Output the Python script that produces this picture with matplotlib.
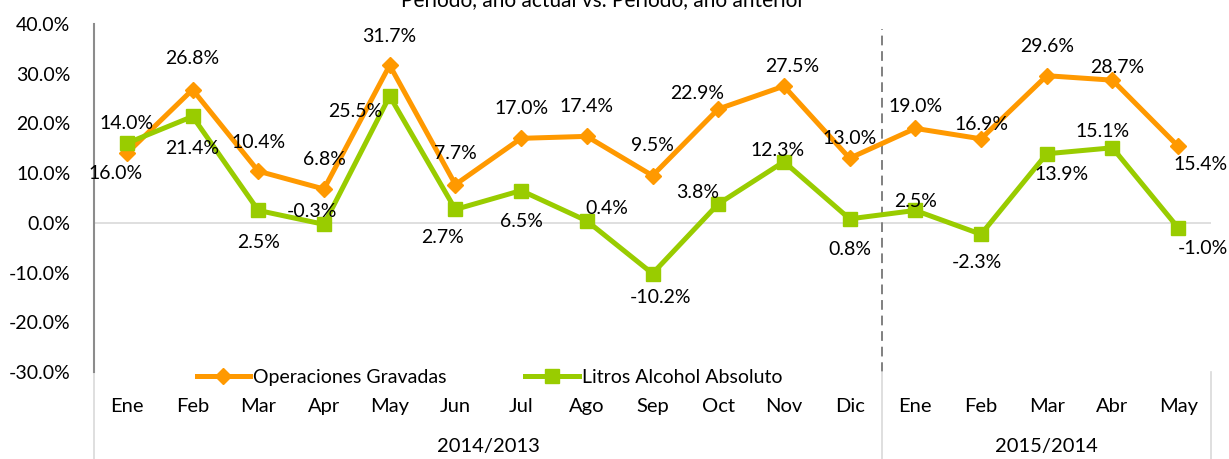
import matplotlib
matplotlib.use("Agg")
import matplotlib.pyplot as plt
import matplotlib.transforms as mtransforms
from matplotlib.lines import Line2D

plt.rcParams['font.family'] = ['Lato', 'DejaVu Sans']

# --- datos ---
meses = ["Ene", "Feb", "Mar", "Apr", "May", "Jun", "Jul", "Ago", "Sep", "Oct", "Nov", "Dic",
         "Ene", "Feb", "Mar", "Abr", "May"]
periodos = ["2014/2013", "2015/2014"]
meses_por_periodo = [12, 5]
operaciones = [14.0, 26.8, 10.4, 6.8, 31.7, 7.7, 17.0, 17.4, 9.5, 22.9, 27.5, 13.0,
               19.0, 16.9, 29.6, 28.7, 15.4]
litros = [16.0, 21.4, 2.5, -0.3, 25.5, 2.7, 6.5, 0.4, -10.2, 3.8, 12.3, 0.8,
          2.5, -2.3, 13.9, 15.1, -1.0]
yticks = [40, 30, 20, 10, 0, -10, -20, -30]

# desplazamiento de las etiquetas (pixeles)
off_op = [(0, 30), (0, 31), (0, 29), (0, 30), (0, 29), (0, 31), (0, 30), (0, 30), (0, 30),
          (-21, 16), (8, 20), (0, 20), (0, 22), (0, 14), (0, 29), (5, 13), (22, -18)]
off_li = [(-11, -30), (0, -32), (0, -32), (-12, 13), (-34, -15), (-13, -28), (0, -31), (20, 12),
          (8, -24), (-21, 11), (-6, 11), (0, -31), (0, 9), (-4, -28), (15, -21), (-10, 16), (25, -21)]

NARANJA = "#FF9900"
VERDE = "#99CC00"

fig = plt.figure(figsize=(12.29, 4.59), dpi=100)
ax = fig.add_axes([94 / 1229, 87 / 459, 1117 / 1229, 348 / 459])

x = list(range(len(meses)))
ax.plot(x, operaciones, color=NARANJA, lw=3.6, marker="D", ms=8, zorder=3,
        label="Operaciones Gravadas")
ax.plot(x, litros, color=VERDE, lw=3.6, marker="s", ms=10, zorder=3,
        label="Litros Alcohol Absoluto")

for i in x:
    ax.annotate(f"{operaciones[i]:.1f}%", (i, operaciones[i]), xytext=off_op[i],
                textcoords="offset pixels", ha="center", va="center", fontsize=14, zorder=4)
    ax.annotate(f"{litros[i]:.1f}%", (i, litros[i]), xytext=off_li[i],
                textcoords="offset pixels", ha="center", va="center", fontsize=14, zorder=4)

ax.set_xlim(-0.5, len(meses) - 0.5)
ax.set_ylim(-30, 40)
ax.set_yticks(yticks)
ax.set_yticklabels([f"{v:.1f}%" for v in yticks], fontsize=14)
ax.set_xticks(x)
ax.set_xticklabels(meses, fontsize=14.5)
ax.tick_params(axis="y", length=0, pad=17)
ax.tick_params(axis="x", length=0, pad=19)

for s in ["top", "right", "bottom"]:
    ax.spines[s].set_visible(False)
ax.spines["left"].set_color("#8c8c8c")
ax.spines["left"].set_linewidth(1.5)
ax.axhline(0, color="#d9d9d9", lw=1.2, zorder=1)

# linea punteada entre periodos
corte = meses_por_periodo[0] - 0.5
ax.plot([corte, corte], [-30, 39], color="#808080", lw=1.4, ls=(0, (5, 3)), zorder=2)

# separadores y etiquetas de periodo bajo el eje
trans = mtransforms.blended_transform_factory(ax.transData, ax.transAxes)
inicio = -0.5
for nombre, n in zip(periodos, meses_por_periodo):
    fin = inicio + n
    ax.text((inicio + fin) / 2, -0.215, nombre, transform=trans, ha="center", va="center",
            fontsize=14.5)
    inicio = fin
for xs in [-0.5, corte, len(meses) - 0.5]:
    ax.add_line(Line2D([xs, xs], [-0.25, 0], transform=trans, color="#d9d9d9", lw=1.2,
                       clip_on=False))

ax.legend(loc="center", bbox_to_anchor=(0.354, -0.015), ncol=2, frameon=False, fontsize=14,
          handlelength=2.75, columnspacing=4.05, handletextpad=0.15, borderpad=0)

fig.text(0.491, 1 - 6 / 459, "Periodo, año actual vs. Periodo, año anterior", ha="center",
         va="baseline", fontsize=15)

fig.savefig("out.png", dpi=100)
